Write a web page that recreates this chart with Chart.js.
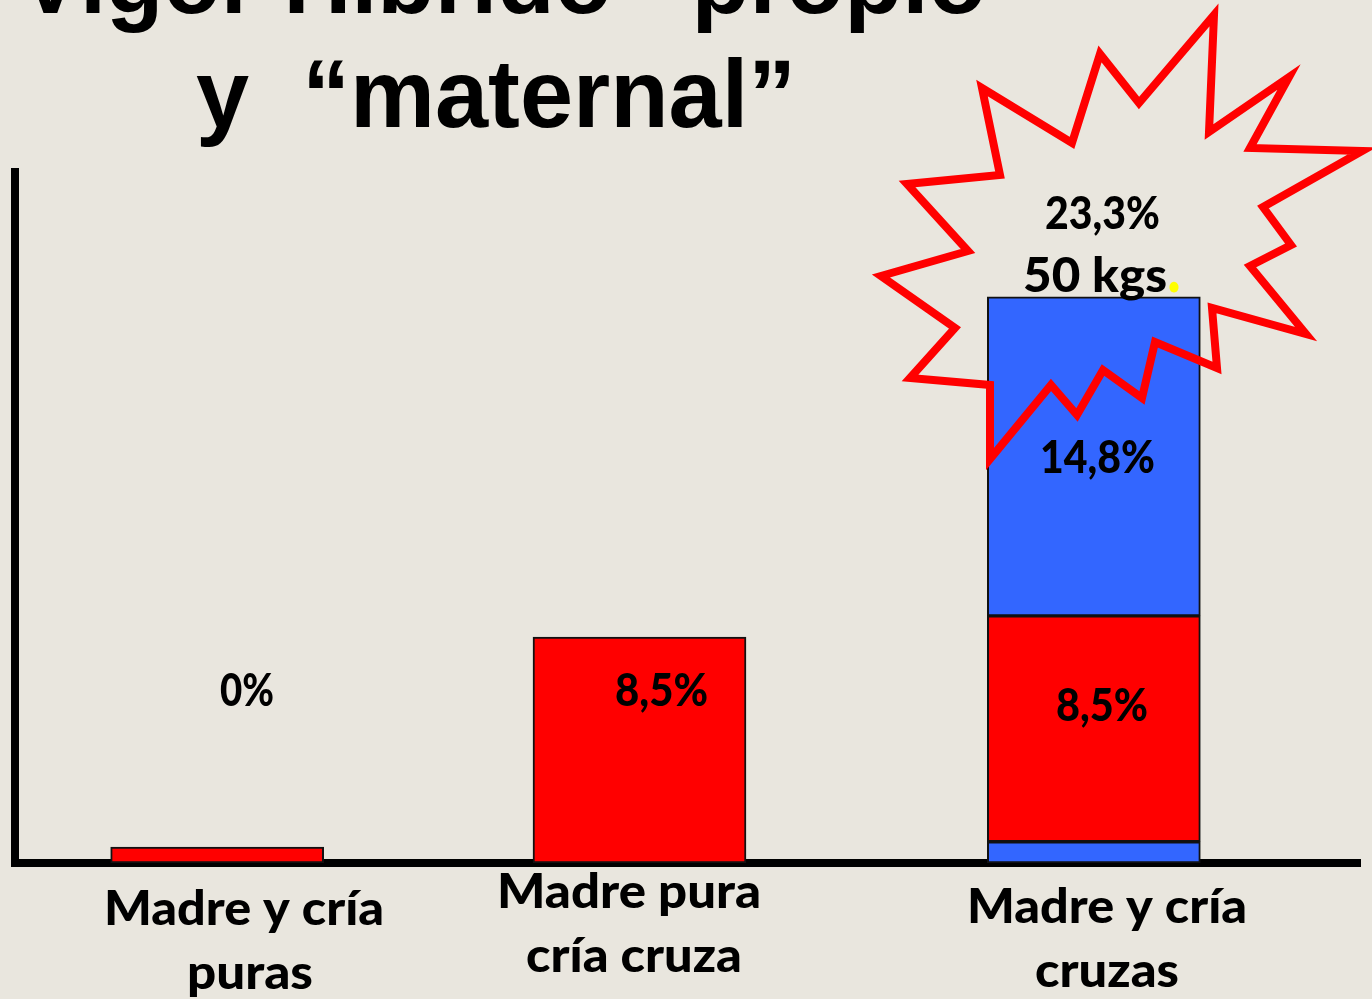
<!DOCTYPE html>
<html>
<head>
<meta charset="utf-8">
<title>Vigor Híbrido</title>
<script src="https://cdn.jsdelivr.net/npm/chart.js@4"></script>
<style>
  html, body { margin: 0; padding: 0; background: #e9e6de; overflow: hidden; }
  canvas { display: block; }
</style>
</head>
<body>
<canvas id="chart" width="1372" height="999"></canvas>
<script>
// Data (bar heights in % units, as drawn on the slide)
const categories = [['Madre y cría', 'puras'], ['Madre pura', 'cría cruza'], ['Madre y cría', 'cruzas']];
const baseBlue = [null, null, 0.8];
const redPart = [0.6, 8.5, 8.5];
const topBlue = [null, null, 12];
const yMax = 26;

// The slide does not space its bars evenly, so nudge each one from its band centre
const barShift = [-22, -48, -42];

// Text on the slide: [text, left x, baseline y, width, font, colour]
// Each text gets stretched to its width, the slide's title lines are not the same proportion
const labelFont = '900 48px Lato';
const valueFont = '900 45px Lato';
const titleFont = '700 96px "Liberation Sans"';
const slideText = [
  ['Vigor Híbrido', 19, 13, 593, titleFont, '#000'],
  ['“propio”', 644, 13, 390, titleFont, '#000'],
  ['y  “maternal”', 196, 127, 600, titleFont, '#000'],
  [categories[0][0], 104, 925, 280, labelFont, '#000'],
  [categories[0][1], 187, 989, 126, labelFont, '#000'],
  [categories[1][0], 497, 908, 264, labelFont, '#000'],
  [categories[1][1], 526, 972, 216, labelFont, '#000'],
  [categories[2][0], 967, 923, 280, labelFont, '#000'],
  [categories[2][1], 1035, 987, 144, labelFont, '#000'],
  ['0%', 220, 706, 54, valueFont, '#000'],
  ['8,5%', 615, 706, 93, valueFont, '#000'],
  ['8,5%', 1056, 721, 92, valueFont, '#000'],
  ['14,8%', 1040, 473, 115, valueFont, '#000'],
  ['23,3%', 1045, 229, 115, valueFont, '#000'],
  ['50 kgs', 1023, 292, 144, '900 48px Lato', '#000'],
  ['.', 1167, 292, 14, '700 70px Lato', '#ffff00']
];

// Starburst outline around the total
const burst = [
  [990, 459], [990, 385], [910, 378], [955, 328], [881, 276], [968, 251], [907, 184],
  [1000, 175], [982, 88], [1072, 143], [1100, 54], [1139, 103], [1214, 15], [1209, 132],
  [1289, 77], [1250, 148], [1362, 151], [1263, 207], [1291, 245], [1250, 266], [1306, 334],
  [1212, 308], [1217, 368], [1155, 342], [1142, 398], [1103, 370], [1077, 415], [1051, 385]
];

const shiftBars = {
  id: 'shiftBars',
  afterDatasetsUpdate(chart) {
    chart.data.datasets.forEach((ds, i) => {
      chart.getDatasetMeta(i).data.forEach((bar, j) => { bar.x += barShift[j]; });
    });
  }
};

const slideOverlay = {
  id: 'slideOverlay',
  afterDatasetsDraw(chart) {
    const ctx = chart.ctx;
    ctx.save();
    ctx.beginPath();
    burst.forEach(([x, y], i) => (i ? ctx.lineTo(x, y) : ctx.moveTo(x, y)));
    ctx.closePath();
    ctx.strokeStyle = '#ff0000';
    ctx.lineWidth = 8;
    ctx.lineJoin = 'miter';
    ctx.miterLimit = 20;
    ctx.stroke();

    ctx.textAlign = 'left';
    ctx.textBaseline = 'alphabetic';
    slideText.forEach(([text, x, y, w, font, color]) => {
      ctx.save();
      ctx.font = font;
      ctx.fillStyle = color;
      ctx.translate(x, y);
      ctx.scale(w / ctx.measureText(text).width, 1);
      ctx.fillText(text, 0, 0);
      ctx.restore();
    });
    ctx.restore();
  }
};

const barStyle = { borderColor: '#111', borderWidth: 2, borderSkipped: false, barThickness: 213 };

new Chart(document.getElementById('chart'), {
  type: 'bar',
  data: {
    labels: categories,
    datasets: [
      { label: 'Base', data: baseBlue, backgroundColor: '#3366ff', ...barStyle },
      { label: 'Vigor propio', data: redPart, backgroundColor: '#ff0000', ...barStyle },
      { label: 'Vigor maternal', data: topBlue, backgroundColor: '#3366ff', ...barStyle }
    ]
  },
  plugins: [shiftBars, slideOverlay],
  options: {
    responsive: false,
    animation: false,
    layout: { padding: { left: 7, right: 12, top: 172, bottom: 128 } },
    plugins: { legend: { display: false }, tooltip: { enabled: false } },
    scales: {
      x: {
        stacked: true,
        grid: { display: false },
        ticks: { display: false },
        border: { display: true, color: '#000', width: 8 }
      },
      y: {
        stacked: true,
        min: 0,
        max: yMax,
        grid: { display: false },
        ticks: { display: false },
        border: { display: true, color: '#000', width: 8 }
      }
    }
  }
});
</script>
</body>
</html>
